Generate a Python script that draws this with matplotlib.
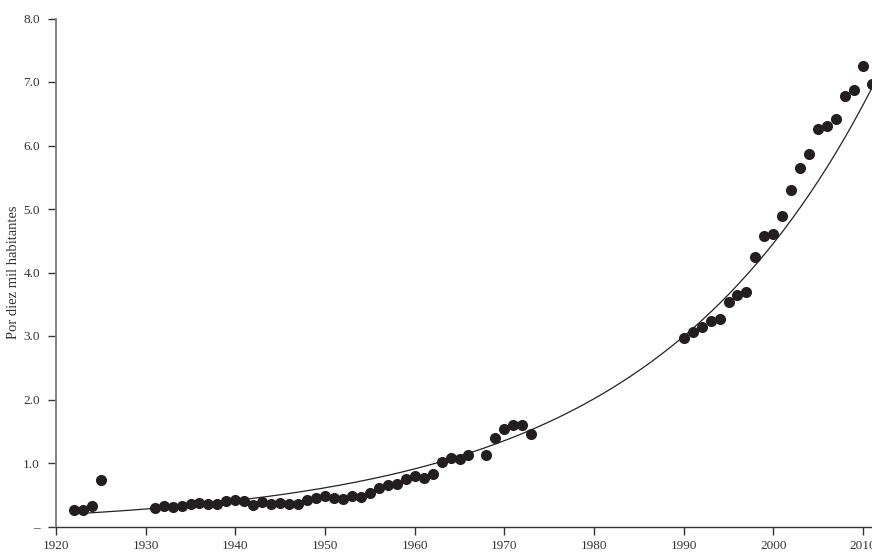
import numpy as np
import matplotlib
matplotlib.use("Agg")
import matplotlib.pyplot as plt

# --------- data --------------------------------------------------
years = [1922, 1923, 1924, 1925,
         1931, 1932, 1933, 1934, 1935, 1936, 1937, 1938, 1939, 1940,
         1941, 1942, 1943, 1944, 1945, 1946, 1947, 1948, 1949, 1950,
         1951, 1952, 1953, 1954, 1955, 1956, 1957, 1958, 1959, 1960,
         1961, 1962, 1963, 1964, 1965, 1966, 1968, 1969, 1970,
         1971, 1972, 1973,
         1990, 1991, 1992, 1993, 1994, 1995, 1996, 1997, 1998, 1999, 2000,
         2001, 2002, 2003, 2004, 2005, 2006, 2007, 2008, 2009, 2010, 2011]
rates = [0.26, 0.26, 0.33, 0.74,
         0.29, 0.33, 0.31, 0.33, 0.36, 0.37, 0.36, 0.35, 0.40, 0.42,
         0.40, 0.34, 0.38, 0.35, 0.37, 0.35, 0.35, 0.41, 0.45, 0.48,
         0.45, 0.44, 0.48, 0.46, 0.53, 0.61, 0.66, 0.67, 0.75, 0.80,
         0.77, 0.83, 1.01, 1.08, 1.06, 1.13, 1.13, 1.39, 1.54,
         1.60, 1.60, 1.45,
         2.97, 3.06, 3.14, 3.23, 3.26, 3.53, 3.64, 3.70, 4.24, 4.57, 4.61,
         4.89, 5.30, 5.64, 5.86, 6.26, 6.30, 6.41, 6.78, 6.87, 7.25, 6.97]

# exponential trend line as drawn (value at 1922 and growth per year)
trend_start = 0.20
trend_growth = 0.0398
trend_years = np.arange(1922, 2011.01, 0.5)

xticks = list(range(1920, 2011, 10))
yticks = [0, 1, 2, 3, 4, 5, 6, 7, 8]
ytick_labels = ["\u2013", "1.0", "2.0", "3.0", "4.0", "5.0", "6.0", "7.0", "8.0"]
ylabel = "Por diez mil habitantes"

# ------------------ plot ------------------------------
plt.rcParams['font.family'] = ['Liberation Serif', 'DejaVu Serif']

fig = plt.figure(figsize=(8.72, 5.54), dpi=100)
ax = fig.add_axes([56 / 872, 27.5 / 554, 816 / 872, 508 / 554])

trend = trend_start * np.exp(trend_growth * (trend_years - 1922))
ax.plot(trend_years, trend, color="#222222", lw=0.9, zorder=2, clip_on=False)
ax.plot(years, rates, "o", color="#231f20", ms=8, mew=0, zorder=3, clip_on=False)

ax.set_xlim(1920, 2011)
ax.set_ylim(0, 8)
ax.set_xticks(xticks)
ax.set_yticks(yticks)
ax.set_yticklabels(ytick_labels)

ax.spines["top"].set_visible(False)
ax.spines["right"].set_visible(False)
ax.spines["left"].set_color("#7a7a7a")
ax.spines["left"].set_linewidth(1.3)
ax.spines["bottom"].set_color("#333333")
ax.spines["bottom"].set_linewidth(1.0)
ax.tick_params(axis="both", direction="out", length=5.5, width=1.0,
               colors="#333333", labelsize=9.5, labelcolor="#333333")
ax.tick_params(axis="x", pad=4)
ax.tick_params(axis="y", pad=6)

ax.set_ylabel(ylabel, fontsize=10.5, color="#333333")
ax.yaxis.set_label_coords(-36 / 816, 0.5)

fig.savefig("out.png", dpi=100)
